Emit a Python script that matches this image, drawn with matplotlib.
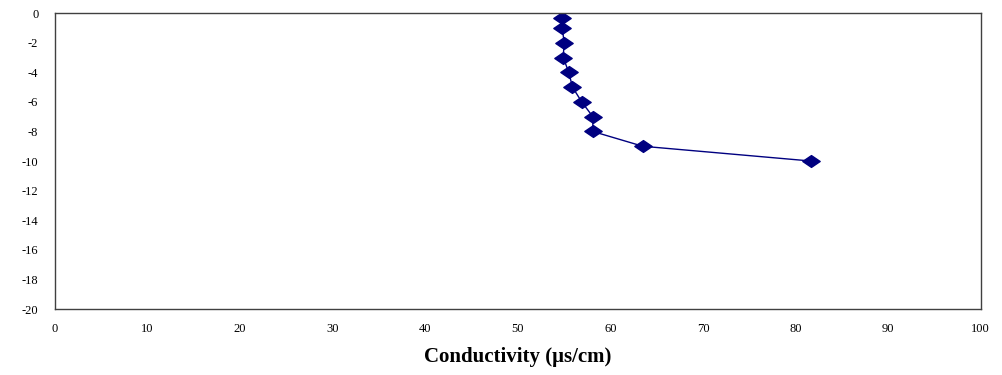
import matplotlib
matplotlib.use("Agg")
import matplotlib.pyplot as plt
from matplotlib.path import Path

# Conductivity profile: depth (m) vs conductivity (us/cm)
conductivity = [54.8, 54.8, 55.0, 54.9, 55.5, 55.9, 56.9, 58.1, 58.1, 63.5, 81.7]
depth = [-0.3, -1, -2, -3, -4, -5, -6, -7, -8, -9, -10]
x_ticks = list(range(0, 101, 10))
y_ticks = list(range(-20, 1, 2))

# flattened diamond marker like the Excel one
diamond = Path([(-1, 0), (0, 0.68), (1, 0), (0, -0.68), (-1, 0)],
               [Path.MOVETO, Path.LINETO, Path.LINETO, Path.LINETO, Path.CLOSEPOLY])

plt.rcParams["font.family"] = ["Liberation Serif", "DejaVu Serif"]
plt.rcParams["axes.unicode_minus"] = False

fig = plt.figure(figsize=(10.03, 3.75), dpi=100)
ax = fig.add_axes([0.0548, 0.176, 0.923, 0.789])

ax.plot(conductivity, depth, color="#000080", linewidth=1.0,
        marker=diamond, markersize=12.5, markerfacecolor="#000080",
        markeredgecolor="#000080")

ax.set_xlim(0, 100)
ax.set_ylim(-20, 0)
ax.set_xticks(x_ticks)
ax.set_yticks(y_ticks)
ax.tick_params(length=0, labelsize=9)
ax.tick_params(axis="x", pad=10)
ax.tick_params(axis="y", pad=12)
for s in ax.spines.values():
    s.set_color("#404040")
    s.set_linewidth(1.0)

ax.set_xlabel("Conductivity (μs/cm)", fontsize=15, fontweight="bold", labelpad=9)

fig.savefig("out.png", dpi=100)
